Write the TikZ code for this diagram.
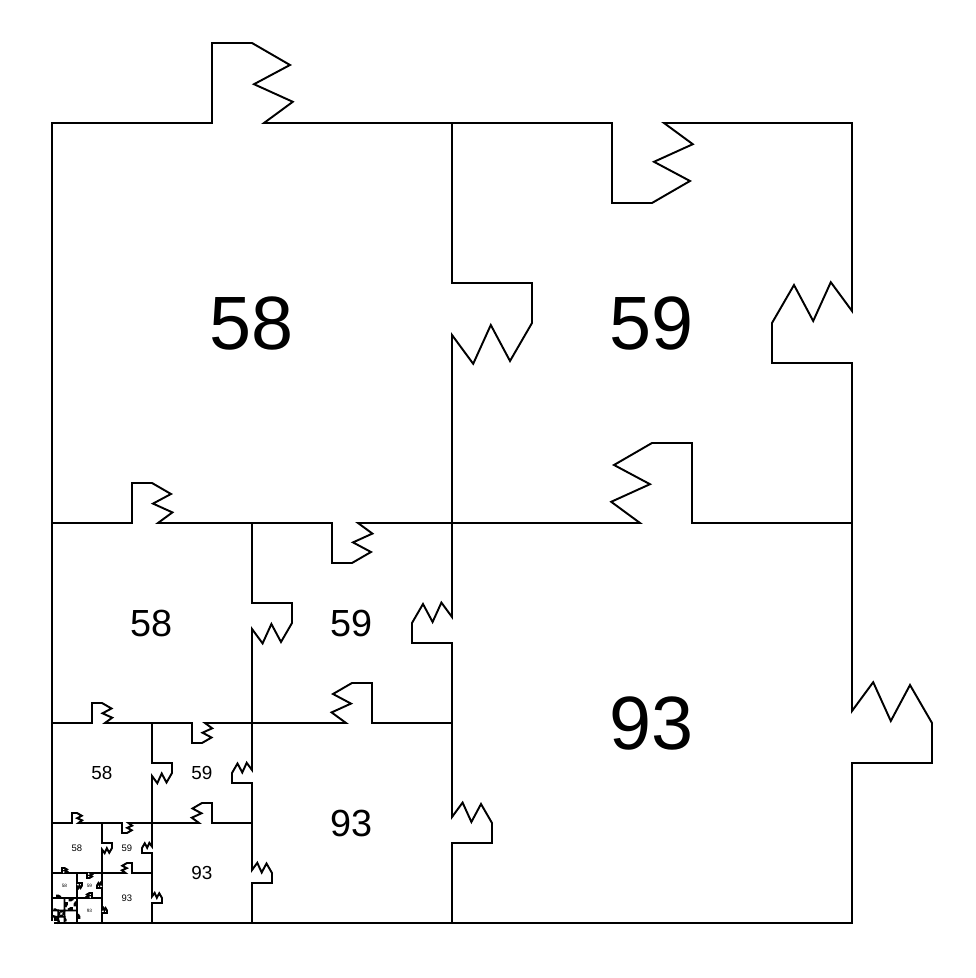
\documentclass[tikz,border=0pt]{standalone}
\usepackage{fontspec}
\setmainfont{Liberation Sans}
\tikzset{
  edge/.style={line width=1.1pt, line cap=rect, line join=miter},
}
% one side of a piece, with its tab, from (0,0) to (1,0)
\newcommand{\tabedge}[1]{%
  \draw[edge, #1] (0,0) -- (0.4,0) -- (0.4,0.2) -- (0.5,0.2) -- (0.595,0.145)
    -- (0.505,0.097) -- (0.602,0.053) -- (0.53,0) -- (1,0);}
\begin{document}
\begin{tikzpicture}
  \useasboundingbox (-1.04,-1.1) rectangle (18.48,18.46);

  % Each level: pieces 58, 59, 93, then the same again in the lower left corner
  \foreach \k in {0,...,7}{
    \pgfmathsetmacro\s{8/2^\k}
    \pgfmathsetmacro\fs{43/2^\k}
    % Straight outer sides
    \draw[edge] (0,\s) -- (0,2*\s);
    \draw[edge] (\s,0) -- (2*\s,0);
    % Sides with tabs
    \tabedge{shift={(0,2*\s)}, scale=\s}
    \tabedge{shift={(\s,2*\s)}, yscale=-1, scale=\s}
    \tabedge{shift={(\s,2*\s)}, rotate=-90, scale=\s}
    \tabedge{shift={(2*\s,\s)}, rotate=90, scale=\s}
    \tabedge{shift={(2*\s,\s)}, xscale=-1, scale=\s}
    \tabedge{shift={(2*\s,0)}, rotate=90, yscale=-1, scale=\s}
    % Labels
    \ifnum\k<5
      \node[font=\fontsize{\fs pt}{\fs pt}\selectfont] (a\k) at (0.5*\s,1.5*\s) {58};
      \node[font=\fontsize{\fs pt}{\fs pt}\selectfont] (b\k) at (1.5*\s,1.5*\s) {59};
      \node[font=\fontsize{\fs pt}{\fs pt}\selectfont] (c\k) at (1.5*\s,0.5*\s) {93};
    \fi
  }
\end{tikzpicture}
\end{document}
